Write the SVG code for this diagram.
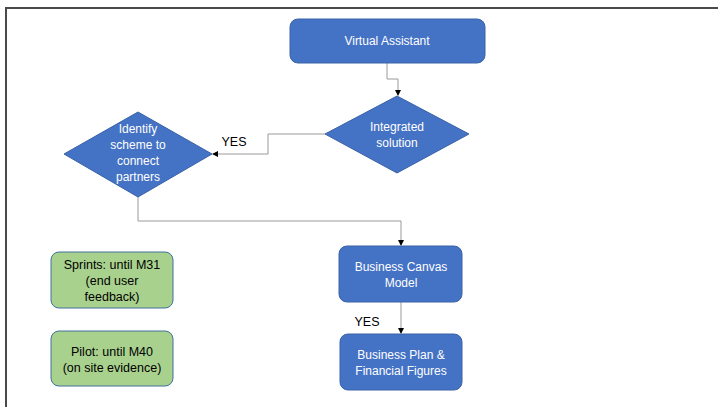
<svg xmlns="http://www.w3.org/2000/svg" width="718" height="407" viewBox="0 0 718 407">
  <style>
    .frame { fill: none; stroke: #4a4a4a; stroke-width: 2; }
    .blue { fill: #4472C4; stroke: #3A62A8; stroke-width: 1; }
    .green { fill: #A9D18E; stroke: #41719C; stroke-width: 1; }
    .wt { font-family: "Liberation Sans", Arial, sans-serif; font-size: 12px; fill: #ffffff; text-anchor: middle; }
    .bt { font-family: "Liberation Sans", Arial, sans-serif; font-size: 12.5px; fill: #000000; text-anchor: middle; }
    .conn { fill: none; stroke: #9a9a9a; stroke-width: 1; }
  </style>
  <defs>
    <marker id="arrow" markerWidth="6" markerHeight="6" refX="5" refY="3" orient="auto" markerUnits="userSpaceOnUse">
      <path d="M0,0 L6,3 L0,6 Z" fill="#000000"/>
    </marker>
  </defs>

  <rect width="718" height="407" fill="#ffffff"/>
  <!-- outer frame: top and left edges -->
  <path class="frame" d="M6,407 V8 H718"/>

  <g id="connectors">
    <path class="conn" d="M387,63 V79 H398 V95" marker-end="url(#arrow)"/>
    <path class="conn" d="M325,134 H268 V154 H213" marker-end="url(#arrow)"/>
    <path class="conn" d="M138,197 V221 H401 V245" marker-end="url(#arrow)"/>
    <path class="conn" d="M401,302 V333" marker-end="url(#arrow)"/>
    <text class="bt" x="234" y="146">YES</text>
    <text class="bt" x="367" y="326">YES</text>
  </g>

  <g id="virtual-assistant">
    <rect class="blue" x="290" y="19" width="195" height="44" rx="8"/>
    <text class="wt" x="387" y="45">Virtual Assistant</text>
  </g>

  <g id="integrated-solution">
    <polygon class="blue" points="397,96 469,134 397,173 325,134"/>
    <text class="wt" x="397" y="131">Integrated</text>
    <text class="wt" x="397" y="147">solution</text>
  </g>

  <g id="identify-scheme">
    <polygon class="blue" points="138,112 212,154 138,197 64,154"/>
    <text class="wt" x="138" y="133">Identify</text>
    <text class="wt" x="138" y="149">scheme to</text>
    <text class="wt" x="138" y="165">connect</text>
    <text class="wt" x="138" y="181">partners</text>
  </g>

  <g id="business-canvas">
    <rect class="blue" x="339" y="246" width="123" height="56" rx="8"/>
    <text class="wt" x="401" y="271">Business Canvas</text>
    <text class="wt" x="401" y="287">Model</text>
  </g>

  <g id="business-plan">
    <rect class="blue" x="340" y="334" width="122" height="56" rx="8"/>
    <text class="wt" x="401" y="359">Business Plan &amp;</text>
    <text class="wt" x="401" y="375">Financial Figures</text>
  </g>

  <g id="sprints">
    <rect class="green" x="51" y="252" width="122" height="56" rx="8"/>
    <text class="bt" x="112" y="269">Sprints: until M31</text>
    <text class="bt" x="112" y="285">(end user</text>
    <text class="bt" x="112" y="301">feedback)</text>
  </g>

  <g id="pilot">
    <rect class="green" x="51" y="331" width="122" height="55" rx="8"/>
    <text class="bt" x="112" y="356">Pilot: until M40</text>
    <text class="bt" x="112" y="372">(on site evidence)</text>
  </g>
</svg>
